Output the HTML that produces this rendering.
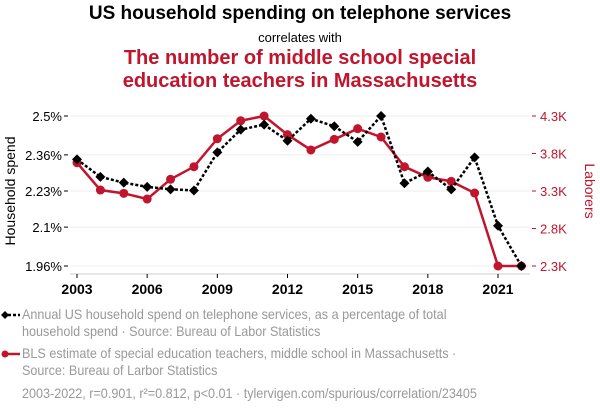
<!DOCTYPE html>
<html><head><meta charset="utf-8"><style>
body{margin:0;width:600px;height:414px;background:#fff;font-family:"Liberation Sans",sans-serif;overflow:hidden;position:relative}
.t{position:absolute;width:600px;text-align:center}
.lg{position:absolute;left:22px;width:488px;font-size:14px;color:#999;line-height:17px;transform:scaleX(0.9);transform-origin:0 0}
</style></head><body>
<div class="t" style="top:3px;font-size:19px;font-weight:bold;color:#000">US household spending on telephone services</div>
<div class="t" style="top:30px;font-size:13px;color:#000">correlates with</div>
<div class="t" style="top:47px;font-size:20px;font-weight:bold;color:#c0152d;line-height:23px">The number of middle school special<br>education teachers in Massachusetts</div>
<svg id="c" width="600" height="414" style="position:absolute;left:0;top:0"></svg>
<div class="lg" style="top:306px">Annual US household spend on telephone services, as a percentage of total household spend · Source: Bureau of Labor Statistics</div>
<div class="lg" style="top:345px">BLS estimate of special education teachers, middle school in Massachusetts · Source: Bureau of Larbor Statistics</div>
<div class="lg" style="top:385px;width:620px">2003-2022, r=0.901, r²=0.812, p&lt;0.01 · tylervigen.com/spurious/correlation/23405</div>
<script>
const years=[2003,2004,2005,2006,2007,2008,2009,2010,2011,2012,2013,2014,2015,2016,2017,2018,2019,2020,2021,2022];
const spend=[2.344,2.281,2.260,2.245,2.236,2.232,2.369,2.451,2.469,2.411,2.49,2.463,2.407,2.5,2.258,2.30,2.236,2.351,2.105,1.96];
const teachers=[3677,3313,3269,3193,3456,3624,3997,4237,4300,4051,3847,3989,4131,4020,3624,3483,3429,3273,2300,2300];
const leftTicks=[2.5,2.36,2.23,2.1,1.96];
const leftLabels=["2.5%","2.36%","2.23%","2.1%","1.96%"];
const rightTicks=[4300,3800,3300,2800,2300];
const rightLabels=["4.3K","3.8K","3.3K","2.8K","2.3K"];
const xTicks=[2003,2006,2009,2012,2015,2018,2021];
const NS="http://www.w3.org/2000/svg",svg=document.getElementById('c');
const x=v=>77+(v-2003)*(421/18);
const yL=v=>116+(2.5-v)/0.54*150;
const yR=v=>116+(4300-v)/2000*150;
function mk(t,a,p){const e=document.createElementNS(NS,t);for(const k in a)e.setAttribute(k,a[k]);(p||svg).appendChild(e);return e;}
leftTicks.forEach((v,i)=>{
 const g=mk('line',{x1:70,x2:530,y1:yL(v),y2:yL(v),stroke:'#eee','stroke-width':1});
 
 
 const t=mk('text',{x:62,y:yL(v)+5,'text-anchor':'end','font-size':13,fill:'#000'});t.textContent=leftLabels[i];
 
 
 mk('line',{x1:64,x2:68,y1:yL(v),y2:yL(v),stroke:'#000'});
});
rightTicks.forEach((v,i)=>{
 const t=mk('text',{x:540,y:yR(v)+5,'font-size':13,fill:'#c0152d'});t.textContent=rightLabels[i];
 
 
 mk('line',{x1:532,x2:536,y1:yR(v),y2:yR(v),stroke:'#c0152d'});
});
mk('line',{x1:70,x2:530,y1:274,y2:274,stroke:'#ccc'});
xTicks.forEach(v=>{
 mk('line',{x1:x(v),x2:x(v),y1:274,y2:278,stroke:'#000'});
 const t=mk('text',{x:x(v),y:294,'text-anchor':'middle','font-size':14,'font-weight':'bold',fill:'#000'});t.textContent=v;
 
 
});
let a=mk('text',{x:0,y:0,transform:'translate(15,191) rotate(-90)','text-anchor':'middle','font-size':14,fill:'#000'});a.textContent='Household spend';


a=mk('text',{x:0,y:0,transform:'translate(585,191) rotate(90)','text-anchor':'middle','font-size':14,fill:'#c0152d'});a.textContent='Laborers';


const rl=mk('polyline',{points:years.map((y,i)=>x(y)+','+yR(teachers[i])).join(' '),fill:'none',stroke:'#c0152d','stroke-width':2.5});


years.forEach((y,i)=>{const c=mk('circle',{cx:x(y),cy:yR(teachers[i]),r:4.5,fill:'#c0152d'});
 
 });
const bl=mk('polyline',{points:years.map((y,i)=>x(y)+','+yL(spend[i])).join(' '),fill:'none',stroke:'#000','stroke-width':2.5,'stroke-dasharray':'3 2'});


years.forEach((y,i)=>{const cx=x(y),cy=yL(spend[i]);const p=mk('polygon',{points:`${cx},${cy-5} ${cx+5},${cy} ${cx},${cy+5} ${cx-5},${cy}`,fill:'#000'});
 
 });
mk('line',{x1:3,x2:20,y1:315,y2:315,stroke:'#000','stroke-width':2.5,'stroke-dasharray':'3 2'});
mk('polygon',{points:'5,311 9,315 5,319 1,315',fill:'#000'});
mk('line',{x1:3,x2:20,y1:354,y2:354,stroke:'#c0152d','stroke-width':2.5});
mk('circle',{cx:5,cy:354,r:3.5,fill:'#c0152d'});
</script>
</body></html>
